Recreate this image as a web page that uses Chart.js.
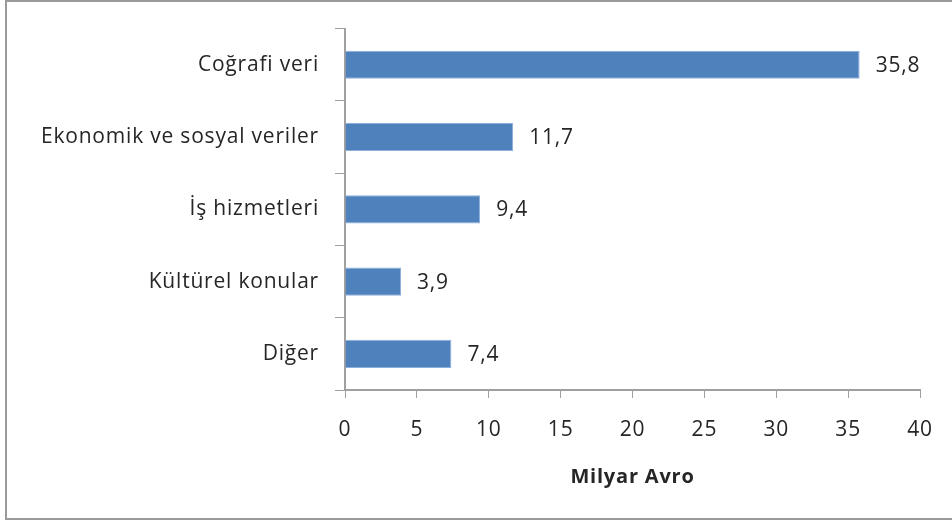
<!DOCTYPE html>
<html>
<head>
<meta charset="utf-8">
<script src="https://cdn.jsdelivr.net/npm/chart.js@4"></script>
<style>
  html, body { margin: 0; padding: 0; background: #fff; }
  #wrap { position: relative; width: 952px; height: 520px; overflow: hidden; }
  #frame { position: absolute; left: 5px; top: 0; width: 960px; height: 520px;
           border: 2px solid #9a9a9a; box-sizing: border-box; pointer-events: none; }
  canvas { position: absolute; left: 0; top: 0; }
</style>
</head>
<body>
<div id="wrap">
  <canvas id="chart" width="952" height="520"></canvas>
  <div id="frame"></div>
</div>
<script>
const categories = ["Coğrafi veri", "Ekonomik ve sosyal veriler", "İş hizmetleri", "Kültürel konular", "Diğer"];
const values = [35.8, 11.7, 9.4, 3.9, 7.4];
const xTicks = [0, 5, 10, 15, 20, 25, 30, 35, 40];
const axisTitle = "Milyar Avro";

const FONT = "'Open Sans', sans-serif";
const TEXT = "#262626";
const AXIS = "#a0a0a0";

// the original text is set a bit wider than Open Sans, so space the letters out
const wideText = {
  id: "wideText",
  beforeDraw(chart) { chart.ctx.letterSpacing = "0.8px"; }
};

// draw the value next to each bar, with a comma as decimal separator
const valueLabels = {
  id: "valueLabels",
  afterDatasetsDraw(chart) {
    const ctx = chart.ctx;
    const meta = chart.getDatasetMeta(0);
    ctx.save();
    ctx.font = "21px " + FONT;
    ctx.fillStyle = TEXT;
    ctx.textAlign = "left";
    ctx.textBaseline = "middle";
    meta.data.forEach((bar, i) => {
      const txt = values[i].toFixed(1).replace(".", ",");
      ctx.fillText(txt, bar.x + 16, bar.y + 1);
    });
    ctx.restore();
  }
};

new Chart(document.getElementById("chart"), {
  type: "bar",
  data: {
    labels: categories,
    datasets: [{
      data: values,
      backgroundColor: "#4f81bd",
      borderColor: "#8cb0dc",
      borderWidth: 1,
      barPercentage: 0.39,
      categoryPercentage: 1
    }]
  },
  options: {
    indexAxis: "y",
    responsive: false,
    animation: false,
    layout: { padding: { top: 27, right: 32, left: 0, bottom: 0 } },
    plugins: {
      legend: { display: false },
      tooltip: { enabled: false }
    },
    scales: {
      y: {
        grid: { drawOnChartArea: false, color: AXIS, tickLength: 10, offset: true },
        border: { color: AXIS, width: 2 },
        ticks: { color: TEXT, font: { family: FONT, size: 21 }, padding: 16 },
        afterFit(scale) { scale.width = 345; }
      },
      x: {
        min: 0,
        max: 40,
        afterBuildTicks(scale) { scale.ticks = xTicks.map(v => ({ value: v })); },
        grid: { drawOnChartArea: false, color: AXIS, tickLength: 8 },
        border: { color: AXIS, width: 2 },
        ticks: { color: TEXT, font: { family: FONT, size: 21 }, padding: 19 },
        title: {
          display: true,
          text: axisTitle,
          color: TEXT,
          font: { family: FONT, size: 20, weight: "bold" },
          padding: { top: 0, bottom: 31 }
        },
        afterFit(scale) { scale.height = 130; }
      }
    }
  },
  plugins: [wideText, valueLabels]
});
</script>
</body>
</html>
